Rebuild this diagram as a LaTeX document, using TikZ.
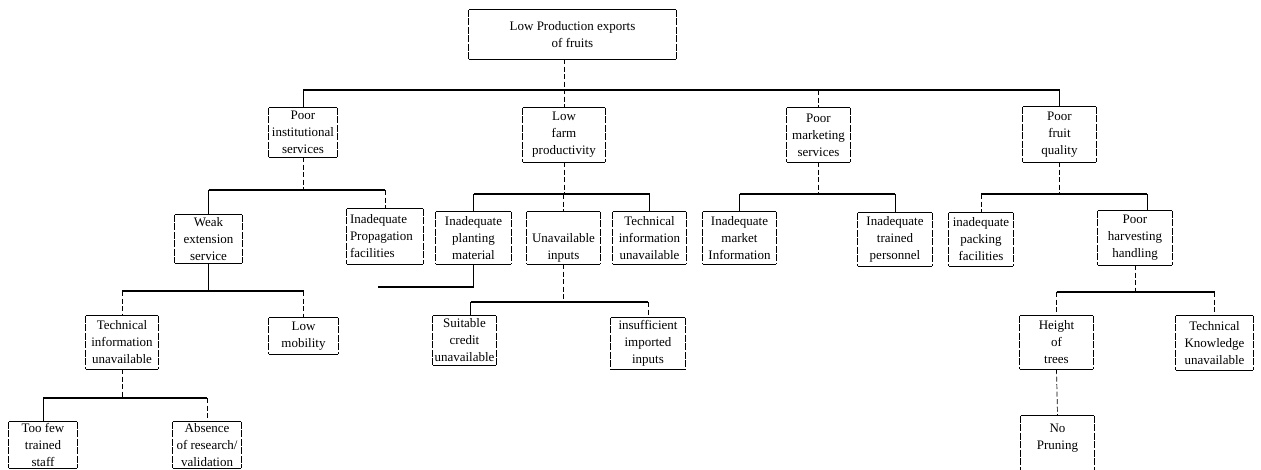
\documentclass[tikz,border=0pt]{standalone}
\usepackage{fontspec}
\setmainfont{Liberation Serif}
\newcommand\myframeedges[1]{%
  \draw[boxh] (#1.north west) -- (#1.north east) (#1.south west) -- (#1.south east);
  \draw[boxv] (#1.north west) -- (#1.south west) (#1.north east) -- (#1.south east);}
\tikzset{
  bx/.style={draw=none, inner sep=1pt, align=center, font=\fontsize{13}{17}\selectfont},
  boxh/.style={line width=1.1pt, black},
  boxv/.style={line width=0.7pt, black, dash pattern=on 7pt off 1.5pt},
  hbar/.style={line width=1.3pt, black},
  vsolid/.style={line width=0.9pt, black},
  vdash/.style={line width=0.7pt, black, dash pattern=on 5pt off 2.5pt},
}
\begin{document}
\begin{tikzpicture}[x=1pt,y=-1pt]
\useasboundingbox (0,0) rectangle (1261,469);
\fill[white] (0,0) rectangle (1261,469);
\clip (0,0) rectangle (1261,469);
% level 0
\node[bx, minimum width=207pt, minimum height=49pt] (root) at (572.5,34.5) {Low Production exports\\of fruits};
% level 1
\node[bx, minimum width=68pt, minimum height=49pt] (pinst) at (303,132.5) {Poor\\institutional\\services};
\node[bx, minimum width=82pt, minimum height=54pt] (lfarm) at (564,135) {Low\\farm\\productivity};
\node[bx, minimum width=63pt, minimum height=54pt] (pmkt) at (818.5,135) {Poor\\marketing\\services};
\node[bx, minimum width=73pt, minimum height=55pt] (pfruit) at (1059.5,134.5) {Poor\\fruit\\quality};
% level 2
\node[bx, minimum width=67pt, minimum height=48pt] (weak) at (208.5,239) {Weak\\extension\\service};
\node[bx, align=left, text width=70pt, minimum width=76pt, minimum height=55pt] (prop) at (385,236.5) {Inadequate\\Propagation\\facilities};
\node[bx, minimum width=75pt, minimum height=52pt] (plant) at (473.5,238) {Inadequate\\planting\\material};
\node[bx, minimum width=73pt, minimum height=52pt] (unav) at (563.5,238) {\strut\\Unavailable\\inputs};
\node[bx, minimum width=73pt, minimum height=52pt] (techinfo) at (649.5,238) {Technical\\information\\unavailable};
\node[bx, minimum width=73pt, minimum height=52pt] (mktinfo) at (739.5,238) {Inadequate\\market\\Information};
\node[bx, minimum width=74pt, minimum height=53pt] (trained) at (895,239.5) {Inadequate\\trained\\personnel};
\node[bx, minimum width=64pt, minimum height=53pt] (packing) at (981,239.5) {inadequate\\packing\\facilities};
\node[bx, minimum width=74pt, minimum height=54pt] (harvest) at (1135,238) {Poor\\harvesting\\handling};
% level 3
\node[bx, minimum width=72pt, minimum height=53pt] (techL) at (122,342.5) {Technical\\information\\unavailable};
\node[bx, minimum width=69pt, minimum height=36pt] (lowmob) at (303.5,336) {Low\\mobility};
\node[bx, minimum width=63pt, minimum height=49pt] (suitable) at (464.5,340.5) {Suitable\\credit\\unavailable};
\node[bx, minimum width=74pt, minimum height=51pt] (insuff) at (648,343.5) {insufficient\\imported\\inputs};
\node[bx, minimum width=73pt, minimum height=53pt] (height) at (1056.5,342.5) {Height\\of\\trees};
\node[bx, minimum width=77pt, minimum height=54pt] (techK) at (1214.5,343) {Technical\\Knowledge\\unavailable};
% level 4
\node[bx, minimum width=68pt, minimum height=46pt] (toofew) at (43,445) {Too few\\trained\\staff};
\node[bx, minimum width=68pt, minimum height=46pt] (absence) at (207,445) {Absence\\of research/\\validation};
\node[bx, minimum width=73pt, minimum height=58pt] (noprune) at (1057.5,445) {No\\Pruning\\\mbox{}};
% frames
\foreach \n in {root,pinst,lfarm,pmkt,pfruit,weak,prop,plant,unav,techinfo,mktinfo,trained,packing,harvest,techL,lowmob,suitable,insuff,height,techK,toofew,absence,noprune}{\myframeedges{\n}}
% bar levels
\coordinate (b1) at (0,90);
\coordinate (b2) at (0,190);
\coordinate (b3) at (0,194);
\coordinate (b4) at (0,291);
\coordinate (b5) at (0,302);
\coordinate (b6) at (0,292);
\coordinate (b7) at (0,398);
\coordinate (pe) at (378,287);
% level 0 -> 1
\draw[vdash] (root.south -| lfarm.north) -- (lfarm.north);
\draw[hbar] (pinst.north |- b1) -- (pfruit.north |- b1);
\draw[vsolid] (pinst.north |- b1) -- (pinst.north);
\draw[vdash] (pmkt.north |- b1) -- (pmkt.north);
\draw[vsolid] (pfruit.north |- b1) -- (pfruit.north);
% institutional
\draw[vdash] (pinst.south) -- (pinst.south |- b2);
\draw[hbar] (weak.north |- b2) -- (prop.north |- b2);
\draw[vsolid] (weak.north |- b2) -- (weak.north);
\draw[vdash] (prop.north |- b2) -- (prop.north);
% farm productivity
\draw[vdash] (lfarm.south) -- (lfarm.south |- b3);
\draw[hbar] (plant.north |- b3) -- (techinfo.north |- b3);
\draw[vsolid] (plant.north |- b3) -- (plant.north);
\draw[vdash] (unav.north |- b3) -- (unav.north);
\draw[vsolid] (techinfo.north |- b3) -- (techinfo.north);
\draw[vsolid] (plant.south) -- (plant.south |- pe);
\draw[hbar] (plant.south |- pe) -- (pe);
% marketing
\draw[vdash] (pmkt.south) -- (pmkt.south |- b3);
\draw[hbar] (mktinfo.north |- b3) -- (trained.north |- b3);
\draw[vsolid] (mktinfo.north |- b3) -- (mktinfo.north);
\draw[vsolid] (trained.north |- b3) -- (trained.north);
% fruit quality
\draw[vdash] (pfruit.south) -- (pfruit.south |- b3);
\draw[hbar] (packing.north |- b3) -- ([xshift=12pt]harvest.north |- b3);
\draw[vdash] (packing.north |- b3) -- (packing.north);
\draw[vsolid] ([xshift=12pt]harvest.north |- b3) -- ([xshift=12pt]harvest.north);
% weak extension
\draw[vsolid] (weak.south) -- (weak.south |- b4);
\draw[hbar] (techL.north |- b4) -- (lowmob.north |- b4);
\draw[vdash] (techL.north |- b4) -- (techL.north);
\draw[vdash] (lowmob.north |- b4) -- (lowmob.north);
% unavailable inputs
\draw[vdash] (unav.south) -- (unav.south |- b5);
\draw[hbar] ([xshift=6pt]suitable.north |- b5) -- (insuff.north |- b5);
\draw[vsolid] ([xshift=6pt]suitable.north |- b5) -- ([xshift=6pt]suitable.north);
\draw[vdash] (insuff.north |- b5) -- (insuff.north);
% harvesting
\draw[vdash] (harvest.south) -- (harvest.south |- b6);
\draw[hbar] (height.north |- b6) -- (techK.north |- b6);
\draw[vdash] (height.north |- b6) -- (height.north);
\draw[vdash] (techK.north |- b6) -- (techK.north);
% technical information (left)
\draw[vdash] (techL.south) -- (techL.south |- b7);
\draw[hbar] (toofew.north |- b7) -- (absence.north |- b7);
\draw[vsolid] (toofew.north |- b7) -- (toofew.north);
\draw[vdash] (absence.north |- b7) -- (absence.north);
% height of trees
\draw[vdash] (height.south) -- (noprune.north);
\end{tikzpicture}
\end{document}
